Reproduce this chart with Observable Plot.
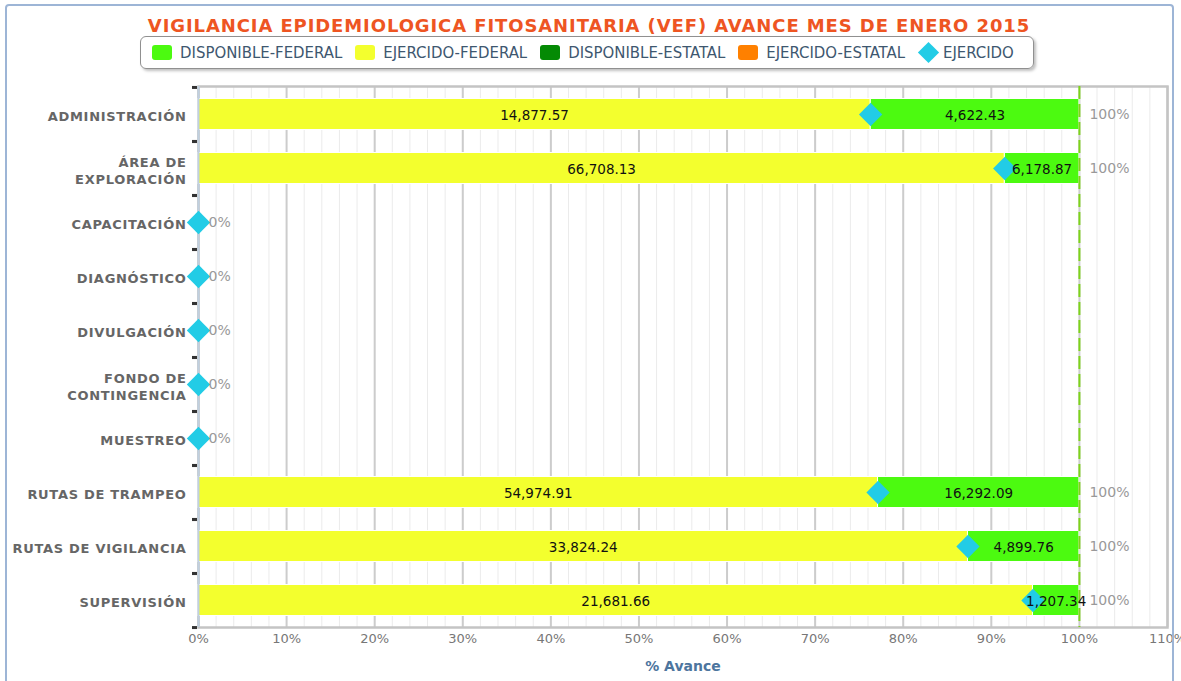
<!DOCTYPE html>
<html>
<head>
<meta charset="utf-8">
<script src="https://cdn.jsdelivr.net/npm/d3@7"></script>
<script src="https://cdn.jsdelivr.net/npm/@observablehq/plot@0.6"></script>
<style>
  body { margin: 0; background: #fff; }
  #wrap { position: relative; width: 1181px; height: 681px; overflow: hidden; background: #fff; }
  #border { position: absolute; left: 5px; top: 4px; width: 1169px; height: 720px; border: 2px solid #9DB5D6; border-radius: 4px; box-sizing: border-box; z-index: 2; pointer-events: none; }
  #title { position: absolute; top: 15px; left: 0; width: 1178px; text-align: center; font-family: "DejaVu Sans", sans-serif; font-weight: bold; font-size: 18px; color: #EE5522; letter-spacing: 0.9px; white-space: nowrap; }
  #legend { position: absolute; left: 140px; top: 36px; width: 894px; height: 33px; border: 1px solid #909090; border-radius: 6px; box-sizing: border-box; box-shadow: 2px 2px 3px rgba(0,0,0,0.25); display: flex; align-items: center; padding-left: 11px; font-family: "DejaVu Sans Condensed", "DejaVu Sans", sans-serif; font-size: 16.6px; color: #3E576F; white-space: nowrap; }
  .item { display: flex; align-items: center; margin-right: 13px; }
  .sw { width: 20px; height: 15px; border-radius: 3px; margin-right: 8px; }
  .dm { width: 15px; height: 15px; transform: rotate(45deg); margin: 0 7px 0 3px; }
  #chart { position: absolute; top: 76px; left: 0; }
  #chart svg g[aria-label="y-axis tick label"] text { letter-spacing: 0.7px; }
</style>
</head>
<body>
<div id="wrap">
  <div id="border"></div>
  <div id="title"></div>
  <div id="legend"></div>
  <div id="chart"></div>
</div>
<script>
// ---- data ----
const titleText = "VIGILANCIA EPIDEMIOLOGICA FITOSANITARIA (VEF) AVANCE MES DE ENERO 2015";
const categories = ["ADMINISTRACIÓN", "ÁREA DE\nEXPLORACIÓN", "CAPACITACIÓN", "DIAGNÓSTICO", "DIVULGACIÓN", "FONDO DE\nCONTINGENCIA", "MUESTREO", "RUTAS DE TRAMPEO", "RUTAS DE VIGILANCIA", "SUPERVISIÓN"];
const disponibleFederal = [4622.43, 6178.87, 0, 0, 0, 0, 0, 16292.09, 4899.76, 1207.34];
const ejercidoFederal   = [14877.57, 66708.13, 0, 0, 0, 0, 0, 54974.91, 33824.24, 21681.66];
const disponibleEstatal = [0, 0, 0, 0, 0, 0, 0, 0, 0, 0];
const ejercidoEstatal   = [0, 0, 0, 0, 0, 0, 0, 0, 0, 0];
const avanceLabels = ["100%", "100%", "0%", "0%", "0%", "0%", "0%", "100%", "100%", "100%"];
const seriesNames = ["DISPONIBLE-FEDERAL", "EJERCIDO-FEDERAL", "DISPONIBLE-ESTATAL", "EJERCIDO-ESTATAL"];
const seriesColors = ["#4CFA10", "#F3FF2E", "#048A04", "#FF8000"];
const diamondName = "EJERCIDO";
const diamondColor = "#22CCE6";
const xTicks = [0, 10, 20, 30, 40, 50, 60, 70, 80, 90, 100, 110];
const minorTicks = d3.range(0, 111, 2);
const targetLine = [100];
const xLabel = "% Avance";

// ---- derived tables ----
const seriesValues = [disponibleFederal, ejercidoFederal, disponibleEstatal, ejercidoEstatal];
const stackOrder = ["EJERCIDO-ESTATAL", "DISPONIBLE-ESTATAL", "EJERCIDO-FEDERAL", "DISPONIBLE-FEDERAL"];
const rows = [];
const summary = categories.map((cat, i) => {
  const total = seriesValues.reduce((s, arr) => s + arr[i], 0);
  seriesNames.forEach((name, k) => {
    const v = seriesValues[k][i];
    rows.push({cat, series: name, value: v, pct: total ? v / total * 100 : 0});
  });
  const ej = ejercidoFederal[i] + ejercidoEstatal[i];
  return {cat, total: total ? 100 : 0, ej: total ? ej / total * 100 : 0, label: avanceLabels[i]};
});
const fmt = d3.format(",.2f");

// ---- title & legend ----
document.getElementById("title").textContent = titleText;
const legend = document.getElementById("legend");
seriesNames.forEach((n, k) => {
  const it = document.createElement("div"); it.className = "item";
  it.innerHTML = `<div class="sw" style="background:${seriesColors[k]}"></div><span>${n}</span>`;
  legend.appendChild(it);
});
{
  const it = document.createElement("div"); it.className = "item";
  it.innerHTML = `<div class="dm" style="background:${diamondColor}"></div><span>${diamondName}</span>`;
  legend.appendChild(it);
}

// ---- chart ----
const step = (627 - 86) / categories.length;
const chart = Plot.plot({
  width: 1181,
  height: 605,
  marginLeft: 198,
  marginRight: 14,
  marginTop: 10,
  marginBottom: 54,
  style: {fontFamily: "DejaVu Sans, sans-serif", fontSize: "13px", background: "transparent", overflow: "visible"},
  x: {domain: [0, 110], ticks: xTicks},
  y: {domain: categories, padding: 0},
  color: {domain: seriesNames, range: seriesColors},
  marks: [
    Plot.ruleX(minorTicks, {stroke: "#EBEBEB", strokeWidth: 1}),
    Plot.ruleX(xTicks, {stroke: "#CCCCCC", strokeWidth: 2}),
    Plot.frame({stroke: "#C4C4C4", strokeWidth: 2.5}),
    Plot.barX(rows.filter(d => d.value > 0), Plot.stackX({x: "pct", y: "cat", fill: "series", order: stackOrder, stroke: "#fff", strokeWidth: 1, insetTop: 11.5, insetBottom: 11.5})),
    Plot.ruleX([0], {stroke: "#C0D0E0", strokeWidth: 2}),
    Plot.ruleX(targetLine, {stroke: "#7DD41A", strokeWidth: 2, strokeDasharray: "13,5"}),
    Plot.ruleY(categories, {y: d => d, x1: -0.68, x2: -0.11, dy: -step / 2, stroke: "#333", strokeWidth: 3}),
    Plot.ruleY(categories, {y: d => d, x1: -0.68, x2: -0.11, dy: step / 2, stroke: "#333", strokeWidth: 3}),
    Plot.dot(summary, {x: "ej", y: "cat", symbol: "diamond2", r: 10.5, fill: diamondColor}),
    Plot.text(rows.filter(d => d.value > 0), Plot.stackX({x: "pct", y: "cat", z: "series", order: stackOrder, text: d => fmt(d.value), fill: "#111", fontSize: 13.5, dy: 1})),
    Plot.text(summary, {x: "total", y: "cat", text: "label", dx: 10, textAnchor: "start", fill: "#999", fontSize: 14}),
    Plot.axisY({tickSize: 0, tickPadding: 12, fontWeight: "bold", fill: "#666", fontSize: 13, dy: 1.5, lineHeight: 1.3, label: null}),
    Plot.axisX({ticks: xTicks, tickSize: 0, tickPadding: 6, tickFormat: d => d + "%", fill: "#777", fontSize: 13, label: null}),
    Plot.text([xLabel], {frameAnchor: "bottom", dy: 43, text: d => d, fontWeight: "bold", fill: "#4D759E", fontSize: 14})
  ]
});
document.getElementById("chart").appendChild(chart);
</script>
</body>
</html>
